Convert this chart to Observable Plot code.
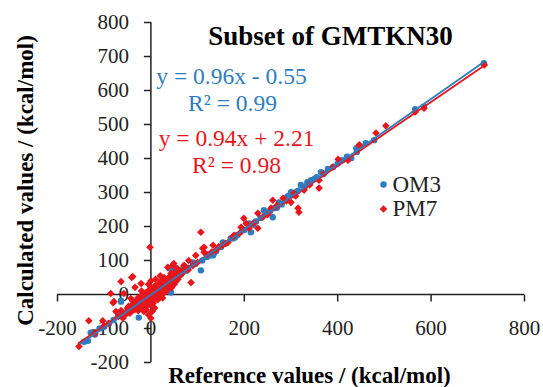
<!DOCTYPE html>
<html><head><meta charset="utf-8">
<script src="https://cdn.jsdelivr.net/npm/d3@7"></script>
<script src="https://cdn.jsdelivr.net/npm/@observablehq/plot@0.6"></script>
<style>body{margin:0;background:#fff}</style>
</head><body><div id="chart"></div>
<script>
// ---- data ----
const titleText = "Subset of GMTKN30";
const xTitle = "Reference values / (kcal/mol)";
const yTitle = "Calculated values / (kcal/mol)";
const seriesNames = ["OM3", "PM7"];
const xTickValues = [-200, 0, 200, 400, 600, 800];
const yTickValues = [-200, -100, 0, 100, 200, 300, 400, 500, 600, 700, 800];
const fitSlopes = [0.96, 0.94];
const fitIntercepts = [-0.55, 2.21];
const fitXRange = [[-150, 713], [-155, 714]];
const fitLabels = [["y = 0.96x - 0.55", "R² = 0.99"], ["y = 0.94x + 2.21", "R² = 0.98"]];

const om3Ref = [713,566,585,478,440,441,429,379,364,343,321,300,293,274,264,261,242,246,214,210,197,176,171,154,135,133,107,90,69,39,49,54,43,135,120,150,185,225,250,280,310,330,355,400,420,460,
  -64,-26,-64,-129,-143,-135,-100,-80,-50,-30,-10,0,10,20,30,-90,-110,-70,15,25,35,-20,5,60,75,
  -120,-60,-40,65,80,95,110,125,140,160,180,200,220,235,255,270,290,305,315,335,350,370,390,410];
const om3Calc = [680,545,552,454,430,419,401,369,360,336,322,301,289,271,254,227,248,239,183,209,189,165,165,153,124,115,71,94,77,77,71,62,6,121,110,140,175,215,240,265,300,318,345,385,405,445,
  -21,-68,-18,-112,-139,-136,-95,-75,-45,-28,-12,-5,8,18,25,-85,-100,-60,-5,35,40,-15,10,55,70,
  -118,-58,-38,60,78,90,100,115,128,150,168,190,205,225,245,255,285,292,305,330,340,355,375,395];

const pm7Ref = [714,566,585,503,482,448,446,422,401,390,360,360,328,306,283,300,315,317,261,257,229,229,199,204,193,178,165,154,139,133,107,111,114,96,81,71,49,36,60,43,28,114,86,47,56,36,
  -2,-39,-64,-34,-21,0,-41,-81,-58,-43,-28,-64,-79,-133,-103,-86,-154,-120,-100,-90,
  -40,-35,-30,-28,-25,-22,-20,-18,-15,-12,-10,-8,-6,-5,-3,-2,0,2,3,5,6,8,9,10,12,13,15,16,18,20,20,22,24,25,27,28,30,31,33,35,36,38,40,42,44,45,48,50,52,55,58,60,
  -45,-50,-55,-60,-70,-75,-15,-10,5,15,25,0,-5,10,20,-20,-5,0,3,8,
  -48,-42,-38,-33,-27,-24,-19,-14,-11,-7,-4,-1,1,4,7,11,14,17,19,23,26,29,32,34,37,41,43,46,49,53,57,62,66,70,75,80,90,100,120,130,145,160,175,190,210,220,240,250,270,290,310,340,370];
const pm7Calc = [675,537,548,496,475,437,440,395,398,375,336,313,307,298,283,271,254,242,277,254,239,195,224,209,198,174,153,145,130,145,183,136,124,115,100,86,91,80,71,62,50,139,35,86,77,41,
  139,53,38,21,32,21,50,-24,3,-12,-32,-47,-21,-77,-77,3,-153,-115,-92,-85,
  -30,-45,-20,-10,-35,-5,-25,-40,-15,5,-20,-8,10,-30,-2,15,-10,5,-18,12,-5,25,0,10,-8,20,30,5,15,-3,25,40,12,20,30,5,45,22,35,15,28,50,32,40,20,55,42,30,48,60,45,55,
  -55,-40,-60,-70,-65,-50,-50,-45,-25,-15,-10,40,30,45,55,10,-60,-70,-50,-40,
  -35,-50,-20,-38,-48,-18,-8,-28,-38,-15,-22,0,-28,-8,2,-12,8,22,-8,6,15,18,8,40,20,25,48,35,62,38,65,68,60,72,80,72,85,95,118,125,140,150,170,180,195,210,228,235,262,275,290,322,355];

// ---- derived tables ----
const om3 = om3Ref.map((x, i) => ({x, y: om3Calc[i]}));
const pm7 = pm7Ref.map((x, i) => ({x, y: pm7Calc[i]}));
const fits = fitSlopes.map((m, i) => fitXRange[i].map(x => ({x, y: m * x + fitIntercepts[i]})));

const blue = "#2e7dc0", red = "#e8161c";
const font = "Liberation Serif, Times New Roman, serif";

const tickDown = {draw(ctx) { ctx.moveTo(0, 0); ctx.lineTo(0, 7); }};
const tickLeft = {draw(ctx) { ctx.moveTo(0, 0); ctx.lineTo(-7, 0); }};
const diamond = {draw(ctx) { const s = 3.8; ctx.moveTo(0, -s); ctx.lineTo(s, 0); ctx.lineTo(0, s); ctx.lineTo(-s, 0); ctx.closePath(); }};

const label = (t, dx, dy, o) => Plot.text([t], {frameAnchor: "top-left", dx, dy, textAnchor: "middle", lineAnchor: "middle", ...o});

const chart = Plot.plot({
  width: 543, height: 387,
  marginLeft: 57, marginRight: 19, marginTop: 22, marginBottom: 25,
  x: {domain: [-200, 800], axis: null},
  y: {domain: [-200, 800], axis: null},
  style: {fontFamily: font, background: "#fff", overflow: "visible"},
  marks: [
    // axes
    Plot.ruleY([0], {x1: xTickValues[0], x2: xTickValues[xTickValues.length - 1], stroke: "#222", strokeWidth: 1.5}),
    Plot.ruleX([0], {y1: yTickValues[0], y2: yTickValues[yTickValues.length - 1], stroke: "#222", strokeWidth: 1.5}),
    Plot.dot(xTickValues, {x: d => d, y: () => 0, symbol: tickDown, fill: "none", stroke: "#222", strokeWidth: 1.5}),
    Plot.dot(yTickValues, {x: () => 0, y: d => d, symbol: tickLeft, fill: "none", stroke: "#222", strokeWidth: 1.5}),
    Plot.text(xTickValues, {x: d => d, y: () => 0, text: d => String(d), dy: 34, fontSize: 21, fill: "#222"}),
    Plot.text(yTickValues, {x: () => 0, y: d => d, text: d => String(d), dx: -22, textAnchor: "end", fontSize: 21, fill: "#222"}),
    // points
    Plot.dot(om3, {x: "x", y: "y", r: 3.2, fill: blue}),
    Plot.dot(pm7, {x: "x", y: "y", symbol: diamond, fill: red}),
    // trend lines
    Plot.line(fits[1], {x: "x", y: "y", stroke: red, strokeWidth: 1.8}),
    Plot.line(fits[0], {x: "x", y: "y", stroke: blue, strokeWidth: 1.8}),
    // title & labels
    label(titleText, 273, 13.5, {fontSize: 27, fontWeight: "bold", fill: "#000"}),
    label(fitLabels[0][0], 174, 53.5, {fontSize: 23.5, fill: blue}),
    label(fitLabels[0][1], 175, 80.5, {fontSize: 23.5, fill: blue}),
    label(fitLabels[1][0], 179, 115.5, {fontSize: 23.5, fill: red}),
    label(fitLabels[1][1], 179, 142.5, {fontSize: 23.5, fill: red}),
    // legend
    Plot.dot([seriesNames[0]], {frameAnchor: "top-left", dx: 326, dy: 162, r: 3.2, fill: blue}),
    Plot.dot([seriesNames[1]], {frameAnchor: "top-left", dx: 326, dy: 186.5, symbol: diamond, fill: red}),
    Plot.text([seriesNames[0]], {frameAnchor: "top-left", dx: 335, dy: 162, textAnchor: "start", lineAnchor: "middle", fontSize: 23, fill: "#222"}),
    Plot.text([seriesNames[1]], {frameAnchor: "top-left", dx: 335, dy: 186.5, textAnchor: "start", lineAnchor: "middle", fontSize: 23, fill: "#222"}),
    // axis titles
    label(xTitle, 252, 353.5, {fontSize: 23, fontWeight: "bold", fill: "#000"}),
    label(yTitle, -31.4, 158, {rotate: -90, fontSize: 23, fontWeight: "bold", fill: "#000"})
  ]
});
document.getElementById("chart").appendChild(chart);
</script>
</body></html>
